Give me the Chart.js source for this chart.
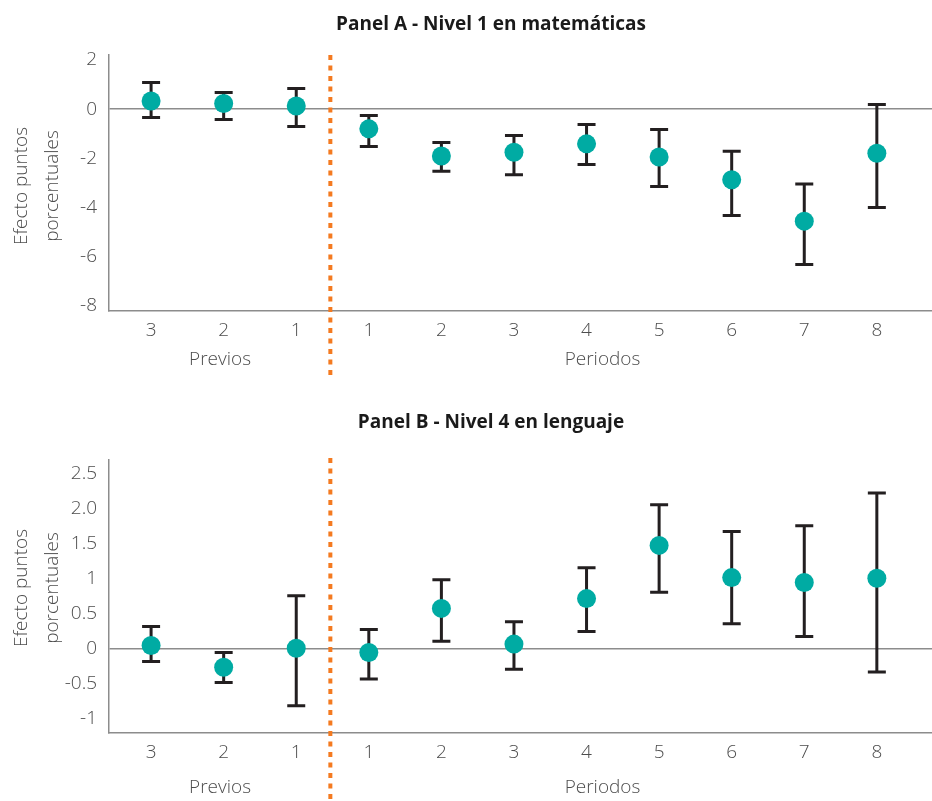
<!DOCTYPE html>
<html lang="es">
<head>
<meta charset="UTF-8">
<title>Efecto puntos porcentuales</title>
<script src="https://cdn.jsdelivr.net/npm/chart.js"></script>
<style>
    html, body { margin: 0; background: #fff; overflow: hidden; }
    .panel { position: relative; width: 932px; }
    #panelA { height: 400px; }
    #panelB { height: 401px; }
</style>
</head>
<body>
<div class="panel" id="panelA"><canvas id="chartA"></canvas></div>
<div class="panel" id="panelB"><canvas id="chartB"></canvas></div>

<script>
    // categorias del eje x (3 previos + 8 periodos)
    const categorias = ['3', '2', '1', '1', '2', '3', '4', '5', '6', '7', '8'];
    const grupos = ['Previos', 'Periodos'];

    // Panel A - Nivel 1 en matematicas
    const estA  = [0.33, 0.23, 0.13, -0.80, -1.90, -1.75, -1.41, -1.94, -2.87, -4.55, -1.79];
    const bajoA = [-0.34, -0.42, -0.70, -1.52, -2.52, -2.66, -2.25, -3.14, -4.32, -6.31, -4.00];
    const altoA = [1.08, 0.68, 0.84, -0.26, -1.35, -1.07, -0.62, -0.83, -1.71, -3.04, 0.19];
    const ticksA = [-8, -6, -4, -2, 0, 2];

    // Panel B - Nivel 4 en lenguaje
    const estB  = [0.04, -0.27, 0.00, -0.06, 0.57, 0.06, 0.71, 1.47, 1.01, 0.94, 1.00];
    const bajoB = [-0.19, -0.49, -0.82, -0.44, 0.10, -0.30, 0.24, 0.80, 0.35, 0.17, -0.34];
    const altoB = [0.31, -0.06, 0.75, 0.27, 0.98, 0.38, 1.15, 2.05, 1.67, 1.75, 2.22];
    const ticksB = [-1, -0.5, 0, 0.5, 1, 1.5, 2, 2.5];
    const etiquetasB = ['-1', '-0.5', '0', '0.5', '1', '1.5', '2.0', '2.5'];

    const FUENTE = "'Open Sans', sans-serif";
    const GRIS_TXT = '#4d4d4d';
    const GRIS_EJE = '#8c8c8c';
    const VERDE = '#00aba3';
    const NARANJA = '#f47a20';
    const ANCHO = 932;

    function barrasError(bajo, alto) {
        return {
            id: 'barrasError',
            beforeDatasetsDraw(chart) {
                const {ctx, scales: {x, y}} = chart;
                ctx.save();
                ctx.strokeStyle = '#231f20';
                ctx.lineWidth = 3;
                bajo.forEach((lo, i) => {
                    const px = x.getPixelForValue(i);
                    const y1 = y.getPixelForValue(lo);
                    const y2 = y.getPixelForValue(alto[i]);
                    ctx.beginPath();
                    ctx.moveTo(px, y1); ctx.lineTo(px, y2);
                    ctx.moveTo(px - 9, y1); ctx.lineTo(px + 9, y1);
                    ctx.moveTo(px - 9, y2); ctx.lineTo(px + 9, y2);
                    ctx.stroke();
                });
                ctx.restore();
            }
        };
    }

    // titulo, linea punteada, grupos y titulo del eje y
    function decoracion(titulo, yTitulo, yLinea0, yLinea1, yGrupos, yEje) {
        return {
            id: 'decoracion',
            afterDraw(chart) {
                const {ctx, scales: {x}} = chart;
                ctx.save();
                // linea divisoria
                const xl = x.getPixelForValue(2.47);
                ctx.strokeStyle = NARANJA;
                ctx.lineWidth = 4;
                ctx.setLineDash([5, 5.5]);
                ctx.beginPath();
                ctx.moveTo(xl, yLinea0);
                ctx.lineTo(xl, yLinea1);
                ctx.stroke();
                ctx.setLineDash([]);

                ctx.textAlign = 'center';
                ctx.textBaseline = 'middle';
                ctx.fillStyle = '#1a1a1a';
                ctx.font = "bold 19px " + FUENTE;
                ctx.fillText(titulo, 491, yTitulo);

                ctx.fillStyle = GRIS_TXT;
                ctx.font = "300 19px " + FUENTE;
                ctx.fillText(grupos[0], x.getPixelForValue(0.95), yGrupos);
                ctx.fillText(grupos[1], x.getPixelForValue(6.22), yGrupos);

                ctx.translate(0, yEje);
                ctx.rotate(-Math.PI / 2);
                ctx.fillText('Efecto puntos', 0, 22);
                ctx.fillText('porcentuales', 0, 53);
                ctx.restore();
            }
        };
    }

    // el area del grafico debe llegar hasta el borde derecho de la ventana
    function ajustarAncho(chart) {
        for (let k = 0; k < 3; k++) {
            const falta = ANCHO - chart.chartArea.right;
            if (Math.abs(falta) < 0.5) break;
            const cont = chart.canvas.parentNode;
            cont.style.width = (cont.clientWidth + falta) + 'px';
            chart.resize();
        }
    }

    function crearPanel(id, est, yMin, yMax, ticks, etiquetas, padTop, altoEjeX, plugins) {
        const ctx = document.getElementById(id).getContext('2d');
        const chart = new Chart(ctx, {
            type: 'scatter',
            data: {
                datasets: [{
                    data: est.map((v, i) => ({x: i, y: v})),
                    backgroundColor: VERDE,
                    borderWidth: 0,
                    pointRadius: 9.5,
                    pointHoverRadius: 9.5
                }]
            },
            options: {
                responsive: true,
                maintainAspectRatio: false,
                animation: false,
                resizeDelay: 0,
                layout: {autoPadding: false, padding: {top: padTop, left: 0, right: 0, bottom: 0}},
                plugins: {legend: {display: false}, tooltip: {enabled: false}},
                scales: {
                    x: {
                        type: 'linear',
                        min: -0.58,
                        max: 10.76,
                        afterBuildTicks: s => { s.ticks = categorias.map((c, i) => ({value: i})); },
                        afterFit: s => {
                            s.height = altoEjeX;
                            s.paddingLeft = 0;
                            s.paddingRight = 0;
                        },
                        ticks: {
                            callback: v => categorias[v],
                            color: GRIS_TXT,
                            font: {family: FUENTE, size: 19, weight: 300},
                            padding: 8,
                            maxRotation: 0,
                            autoSkip: false
                        },
                        grid: {drawOnChartArea: false, drawTicks: false},
                        border: {color: GRIS_EJE, width: 1.5}
                    },
                    y: {
                        min: yMin,
                        max: yMax,
                        afterBuildTicks: s => { s.ticks = ticks.map(v => ({value: v})); },
                        afterFit: s => {
                            s.width = 109;
                            s.paddingTop = 0;
                            s.paddingBottom = 0;
                        },
                        ticks: {
                            callback: (v, i) => etiquetas ? etiquetas[i] : v,
                            color: GRIS_TXT,
                            font: {family: FUENTE, size: 19, weight: 300},
                            padding: 12
                        },
                        grid: {
                            drawTicks: false,
                            color: c => c.tick && c.tick.value === 0 ? GRIS_EJE : 'transparent',
                            lineWidth: 1.5
                        },
                        border: {color: GRIS_EJE, width: 1.5}
                    }
                }
            },
            plugins: plugins
        });
        ajustarAncho(chart);
        return chart;
    }

    crearPanel('chartA', estA, -8.2, 2.2, ticksA, null, 55, 89, [
        barrasError(bajoA, altoA),
        decoracion('Panel A - Nivel 1 en matemáticas', 25, 55, 375, 360, 186)
    ]);

    crearPanel('chartB', estB, -1.21, 2.69, ticksB, etiquetasB, 60, 68, [
        barrasError(bajoB, altoB),
        decoracion('Panel B - Nivel 4 en lenguaje', 23, 58, 401, 388, 188)
    ]);
</script>
</body>
</html>
